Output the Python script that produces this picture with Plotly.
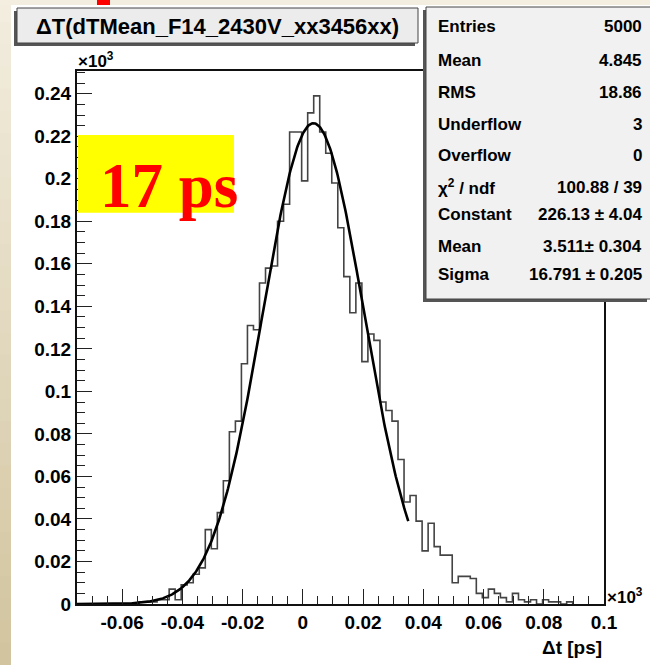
import numpy as np
import plotly.graph_objects as go

# ---------------- data ----------------
# histogram of dT (ps), bin width 2 ps
bin_first_edge_ps = -54.4
bin_width_ps = 2.0
counts = [1, 1, 1, 2, 2, 7, 2, 9, 10, 14, 17, 35, 26, 43, 58, 81, 86, 113, 131, 129,
          151, 158, 159, 180, 188, 222, 222, 199, 231, 239, 222, 212, 198, 177,
          154, 137, 151, 114, 127, 124, 95, 91, 86, 68, 48, 51, 39, 25, 38, 27, 23, 23,
          10, 13, 13, 12, 5, 3, 7, 5, 3, 1, 5, 2, 1, 2, 0, 2, 1, 1, 0, 1]

# gaussian fit parameters (from stats box)
fit_constant = 226.13
fit_mean = 3.511
fit_sigma = 16.791
fit_range_ps = [-75.0, 35.0]

x_tick_vals = [-0.06, -0.04, -0.02, 0, 0.02, 0.04, 0.06, 0.08, 0.1]
x_tick_text = ["-0.06", "-0.04", "-0.02", "0", "0.02", "0.04", "0.06", "0.08", "0.1"]
y_tick_vals = [0, 0.02, 0.04, 0.06, 0.08, 0.1, 0.12, 0.14, 0.16, 0.18, 0.2, 0.22, 0.24]
y_tick_text = ["0", "0.02", "0.04", "0.06", "0.08", "0.1", "0.12", "0.14", "0.16",
               "0.18", "0.2", "0.22", "0.24"]

title_text = "ΔT(dTMean_F14_2430V_xx3456xx)"
stat_labels = ["Entries", "Mean", "RMS", "Underflow", "Overflow", "χ<sup>2</sup> / ndf",
               "Constant", "Mean", "Sigma"]
stat_values = ["5000", "4.845", "18.86", "3", "0", "100.88 / 39",
               "226.13 ± 4.04", "3.511± 0.304", "16.791 ± 0.205"]
x_title = "Δt [ps]"
badge_text = "17 ps"

# ---------------- layout geometry ----------------
W, H = 650, 665
L, R, T, B = 77, 604, 71, 604   # plot frame in px


def px(x):
    return (x - L) / (R - L)


def py(y):
    return (B - y) / (B - T)


FONT = "Liberation Sans, Arial, Helvetica, sans-serif"

fig = go.Figure()

# histogram (step outline)
n = len(counts)
edges = bin_first_edge_ps + bin_width_ps * np.arange(n + 1)
hx = np.concatenate([[edges[0]], edges]) / 1000.0
hy = np.concatenate([[0], np.array(counts, float), [0]]) / 1000.0
fig.add_trace(go.Scatter(x=hx, y=hy, mode="lines", line_shape="hv",
                         line=dict(color="#444444", width=1.6),
                         hoverinfo="skip", showlegend=False))

# gaussian fit
fx = np.linspace(fit_range_ps[0], fit_range_ps[1], 400)
fy = fit_constant * np.exp(-0.5 * ((fx - fit_mean) / fit_sigma) ** 2)
fig.add_trace(go.Scatter(x=fx / 1000.0, y=fy / 1000.0, mode="lines",
                         line=dict(color="black", width=2.6),
                         hoverinfo="skip", showlegend=False))

shapes = []
# beige background strips (gradient on left)
top_c = np.array([0xf3, 0xee, 0xe0])
bot_c = np.array([0xd2, 0xc4, 0x9e])
nb = 30
for i in range(nb):
    y0 = i * H / nb
    y1 = (i + 1) * H / nb
    c = top_c + (bot_c - top_c) * (i + 0.5) / nb
    col = "rgb(%d,%d,%d)" % tuple(c.astype(int))
    shapes.append(dict(type="rect", xref="paper", yref="paper", layer="below",
                       x0=px(0), x1=px(11), y0=py(y0), y1=py(y1 + 1),
                       fillcolor=col, line=dict(width=0)))
shapes.append(dict(type="rect", xref="paper", yref="paper", layer="below",
                   x0=px(0), x1=px(W), y0=py(0), y1=py(5),
                   fillcolor="#f3eee0", line=dict(width=0)))
# red mark at top
shapes.append(dict(type="rect", xref="paper", yref="paper", layer="above",
                   x0=px(97), x1=px(110), y0=py(0), y1=py(5),
                   fillcolor="#ff0000", line=dict(width=0)))

# title box (shadow + box)
shapes.append(dict(type="rect", xref="paper", yref="paper", layer="above",
                   x0=px(14), x1=px(415), y0=py(11), y1=py(46),
                   fillcolor="#555555", line=dict(width=0)))
shapes.append(dict(type="rect", xref="paper", yref="paper", layer="above",
                   x0=px(17), x1=px(418), y0=py(8), y1=py(43),
                   fillcolor="#ececec", line=dict(color="#444444", width=1)))

# stats box (shadow + box)
shapes.append(dict(type="rect", xref="paper", yref="paper", layer="above",
                   x0=px(423), x1=px(647), y0=py(10), y1=py(302),
                   fillcolor="#555555", line=dict(width=0)))
shapes.append(dict(type="rect", xref="paper", yref="paper", layer="above",
                   x0=px(426), x1=px(651), y0=py(7), y1=py(299),
                   fillcolor="#f1f1f1", line=dict(color="#444444", width=1)))

# yellow badge
shapes.append(dict(type="rect", xref="paper", yref="paper", layer="above",
                   x0=px(78), x1=px(234), y0=py(135), y1=py(212.7),
                   fillcolor="#ffff00", line=dict(width=0)))

annotations = []
annotations.append(dict(xref="paper", yref="paper", x=px(217), y=py(27),
                        text=title_text, showarrow=False, xanchor="center", yanchor="middle",
                        font=dict(family=FONT, size=22, color="black", weight="bold")))

stat_y = [27, 60, 92, 124, 156, 187, 214, 246, 274]
for lab, val, yy in zip(stat_labels, stat_values, stat_y):
    annotations.append(dict(xref="paper", yref="paper", x=px(436), y=py(yy), text=lab,
                            showarrow=False, xanchor="left", yanchor="middle",
                            font=dict(family=FONT, size=17, color="black", weight="bold")))
    annotations.append(dict(xref="paper", yref="paper", x=px(644), y=py(yy), text=val,
                            showarrow=False, xanchor="right", yanchor="middle",
                            font=dict(family=FONT, size=17, color="black", weight="bold")))

annotations.append(dict(xref="paper", yref="paper", x=px(98), y=py(186), text=badge_text,
                        showarrow=False, xanchor="left", yanchor="middle",
                        font=dict(family="Liberation Serif, Times New Roman, serif", size=63,
                                  color="#ff0000", weight="bold")))

annotations.append(dict(xref="paper", yref="paper", x=px(76), y=py(60),
                        text="×10<sup>3</sup>", showarrow=False, xanchor="left", yanchor="middle",
                        font=dict(family=FONT, size=17, color="black", weight="bold")))
annotations.append(dict(xref="paper", yref="paper", x=px(605), y=py(596),
                        text="×10<sup>3</sup>", showarrow=False, xanchor="left", yanchor="middle",
                        font=dict(family=FONT, size=17, color="black", weight="bold")))
annotations.append(dict(xref="paper", yref="paper", x=px(604), y=py(647),
                        text=x_title, showarrow=False, xanchor="right", yanchor="middle",
                        font=dict(family=FONT, size=19, color="black", weight="bold")))

fig.update_layout(
    width=W, height=H,
    margin=dict(l=L, r=W - R, t=T, b=H - B, pad=0),
    paper_bgcolor="white", plot_bgcolor="white",
    showlegend=False,
    shapes=shapes, annotations=annotations,
    xaxis=dict(range=[-0.075, 0.1], tickvals=x_tick_vals, ticktext=x_tick_text,
               ticks="inside", ticklen=15, tickwidth=1, tickcolor="#222",
               minor=dict(dtick=0.005, tick0=0, ticks="inside", ticklen=8, tickwidth=1,
                          tickcolor="#222", showgrid=False),
               showline=True, linecolor="#111", linewidth=2, mirror=True,
               showgrid=False, zeroline=False,
               tickfont=dict(family=FONT, size=19, color="black", weight="bold")),
    yaxis=dict(range=[0, 0.2507], tickvals=y_tick_vals, ticktext=y_tick_text,
               ticks="inside", ticklen=15, tickwidth=1, tickcolor="#222",
               minor=dict(dtick=0.005, tick0=0, ticks="inside", ticklen=8, tickwidth=1,
                          tickcolor="#222", showgrid=False),
               showline=True, linecolor="#111", linewidth=2, mirror=True,
               showgrid=False, zeroline=False,
               tickfont=dict(family=FONT, size=19, color="black", weight="bold")),
)

fig.write_html("out.html")
